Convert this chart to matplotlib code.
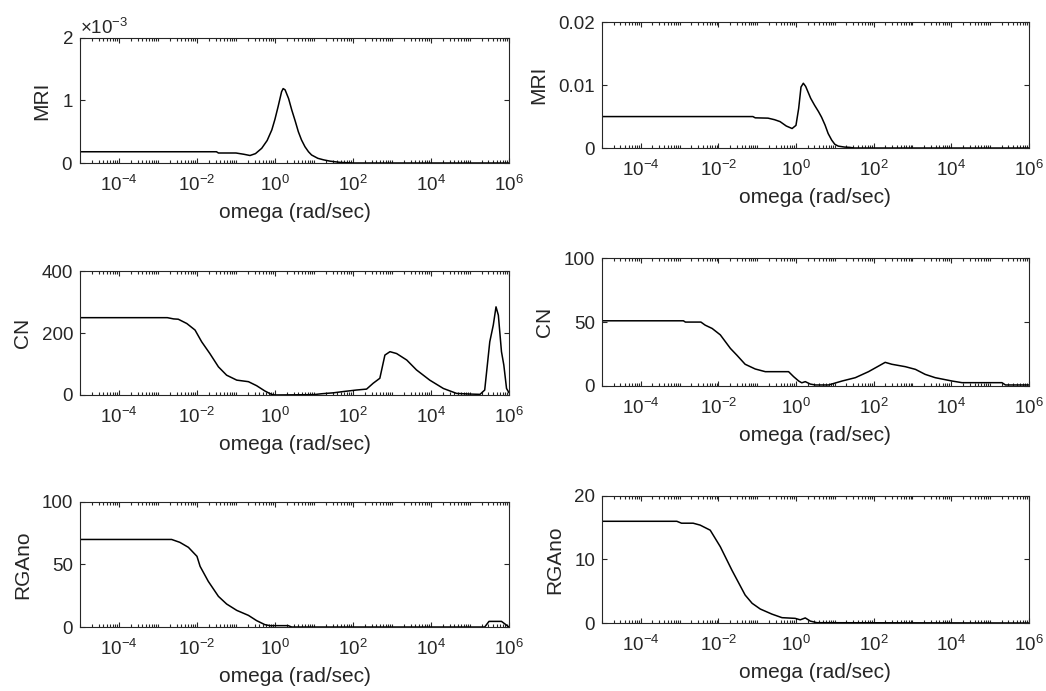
import numpy as np
import matplotlib
matplotlib.use("Agg")
import matplotlib.pyplot as plt
from matplotlib.ticker import FixedLocator, LogLocator, NullFormatter, ScalarFormatter, FuncFormatter, LogFormatterSciNotation

plt.rcParams['font.family'] = ['Liberation Sans', 'DejaVu Sans']
plt.rcParams['axes.unicode_minus'] = False
plt.rcParams['mathtext.fontset'] = 'custom'
plt.rcParams['mathtext.rm'] = 'Liberation Sans'
plt.rcParams['mathtext.it'] = 'Liberation Sans:italic'

# ---------------- data (exponent of omega, value) ----------------
mri1_logw = [-5, -1.5, -1.45, -1.0, -0.8, -0.64, -0.5, -0.34, -0.2, -0.08, 0.0, 0.08, 0.17,
             0.21, 0.26, 0.35, 0.43, 0.52, 0.6, 0.68, 0.77, 0.86, 0.94, 1.1, 1.25, 1.41, 1.67, 2.0, 6]
mri1_val = [0.18e-3, 0.18e-3, 0.16e-3, 0.16e-3, 0.14e-3, 0.12e-3, 0.15e-3, 0.235e-3, 0.36e-3,
            0.53e-3, 0.70e-3, 0.90e-3, 1.14e-3, 1.19e-3, 1.17e-3, 1.03e-3, 0.85e-3, 0.67e-3,
            0.50e-3, 0.37e-3, 0.26e-3, 0.18e-3, 0.128e-3, 0.075e-3, 0.05e-3, 0.03e-3, 0.01e-3, 0.0, 0.0]

mri2_logw = [-5, -1.11, -1.05, -0.72, -0.55, -0.41, -0.25, -0.1, 0.0, 0.07, 0.13, 0.19, 0.25,
             0.38, 0.48, 0.58, 0.66, 0.75, 0.83, 0.92, 1.0, 1.09, 1.25, 1.39, 1.5, 6]
mri2_val = [5.0e-3, 5.0e-3, 4.8e-3, 4.75e-3, 4.5e-3, 4.2e-3, 3.5e-3, 3.1e-3, 3.6e-3, 6.3e-3,
            9.7e-3, 10.3e-3, 9.8e-3, 7.9e-3, 6.8e-3, 5.8e-3, 4.9e-3, 3.65e-3, 2.3e-3, 1.27e-3,
            0.6e-3, 0.3e-3, 0.15e-3, 0.1e-3, 0.0, 0.0]

cn1_logw = [-5, -2.76, -2.6, -2.48, -2.26, -2.05, -1.88, -1.67, -1.45, -1.24, -0.98, -0.68,
            -0.47, -0.26, -0.09, 0.0, 0.98, 1.2, 1.5, 1.75, 2.09, 2.35, 2.52, 2.69, 2.82, 2.95,
            3.12, 3.38, 3.63, 3.97, 4.32, 4.66, 5.0, 5.26, 5.38, 5.51, 5.6, 5.67, 5.73, 5.81,
            5.87, 5.94, 6.0]
cn1_val = [250, 250, 246, 245, 231, 210, 172, 134, 91, 64, 48, 43, 30, 13, 2, 0, 1, 4, 7, 11,
           16, 19, 38, 54, 129, 140, 134, 113, 81, 48, 21, 5, 3, 2, 16, 172, 226, 285, 258,
           140, 97, 21, 8]

cn2_logw = [-5, -2.9, -2.85, -2.45, -2.34, -2.16, -1.95, -1.69, -1.52, -1.31, -1.05, -0.79,
            -0.19, -0.06, 0.07, 0.15, 0.24, 0.37, 0.5, 0.84, 1.19, 1.53, 1.87, 2.13, 2.3, 2.47,
            2.82, 3.08, 3.33, 3.59, 4.02, 4.28, 5.31, 5.4, 6.0]
cn2_val = [51, 51, 50, 50, 47.6, 45, 40, 29.4, 24, 17, 13.3, 11.2, 11.2, 7.3, 3.9, 2.5, 3.4,
           1.5, 0.8, 0.8, 3.9, 6.5, 11.2, 15.6, 18.5, 17, 15.1, 13, 9.1, 6.5, 3.9, 2.6, 2.6,
           0.8, 0.8]

rga1_logw = [-5, -2.65, -2.44, -2.22, -2.0, -1.92, -1.71, -1.45, -1.24, -0.98, -0.68, -0.47,
             -0.26, -0.13, 0.34, 0.43, 5.38, 5.49, 5.81, 5.94, 6.0]
rga1_val = [70, 70, 67.7, 63.7, 56.5, 48.5, 36.5, 24.5, 18.4, 13.3, 9.3, 5.1, 1.9, 1.1, 1.1,
            0, 0, 4.5, 4.5, 1.5, 0]

rga2_logw = [-5, -3.07, -2.95, -2.65, -2.47, -2.21, -1.95, -1.65, -1.31, -1.13, -0.92, -0.62,
             -0.36, -0.02, 0.11, 0.24, 0.37, 0.54, 6.0]
rga2_val = [16, 16, 15.7, 15.7, 15.4, 14.6, 12.0, 8.3, 4.4, 3.1, 2.2, 1.4, 0.84, 0.73, 0.5,
            0.8, 0.3, 0.05, 0.0]

xlabel_text = 'omega (rad/sec)'
x_major = [1e-4, 1e-2, 1e0, 1e2, 1e4, 1e6]

panels = [
    # logw, values, ylabel, ylim, yticks, rect
    (mri1_logw, mri1_val, 'MRI', (0, 2e-3), [0, 1e-3, 2e-3], [0.0765, 0.7641, 0.410, 0.181]),
    (mri2_logw, mri2_val, 'MRI', (0, 0.02), [0, 0.01, 0.02], [0.5755, 0.7858, 0.408, 0.182]),
    (cn1_logw, cn1_val, 'CN', (0, 400), [0, 200, 400], [0.0765, 0.4284, 0.410, 0.179]),
    (cn2_logw, cn2_val, 'CN', (0, 100), [0, 50, 100], [0.5755, 0.4414, 0.408, 0.185]),
    (rga1_logw, rga1_val, 'RGAno', (0, 100), [0, 50, 100], [0.0765, 0.0926, 0.410, 0.181]),
    (rga2_logw, rga2_val, 'RGAno', (0, 20), [0, 10, 20], [0.5755, 0.0984, 0.408, 0.184]),
]

tc = '#262626'
fig = plt.figure(figsize=(10.46, 6.91), dpi=100)

for i, (lw_, val, ylab, ylim, yt, rect) in enumerate(panels):
    ax = fig.add_axes(rect)
    w = 10.0 ** np.array(lw_)
    ax.plot(w, val, color='black', lw=1.1)
    ax.set_xscale('log')
    ax.set_xlim(1e-5, 1e6)
    ax.set_ylim(*ylim)
    ax.xaxis.set_major_locator(FixedLocator(x_major))
    ax.xaxis.set_major_formatter(LogFormatterSciNotation())
    ax.xaxis.set_minor_locator(LogLocator(base=10, subs=np.arange(1, 10), numticks=100))
    ax.xaxis.set_minor_formatter(NullFormatter())
    ax.set_yticks(yt)
    if i == 0:
        fmt = ScalarFormatter(useMathText=True)
        fmt.set_powerlimits((-3, 3))
        ax.yaxis.set_major_formatter(fmt)
    else:
        ax.yaxis.set_major_formatter(FuncFormatter(lambda v, p: f'{v:g}'))
    ax.tick_params(which='both', direction='in', top=True, right=True,
                   colors=tc, width=0.8)
    ax.tick_params(axis='y', which='major', labelsize=13.5, pad=5)
    ax.tick_params(axis='x', which='major', labelsize=13.5, pad=8.5)
    ax.tick_params(which='major', length=3.5)
    ax.tick_params(which='minor', length=2)
    ax.yaxis.get_offset_text().set_fontsize(13.5)
    ax.yaxis.get_offset_text().set_color(tc)
    for s in ax.spines.values():
        s.set_color(tc)
        s.set_linewidth(0.8)
    ax.set_xlabel(xlabel_text, fontsize=15, color=tc, labelpad=6)
    ax.set_ylabel(ylab, fontsize=15, color=tc, labelpad=7)

fig.savefig('out.png', dpi=100, facecolor='white')
